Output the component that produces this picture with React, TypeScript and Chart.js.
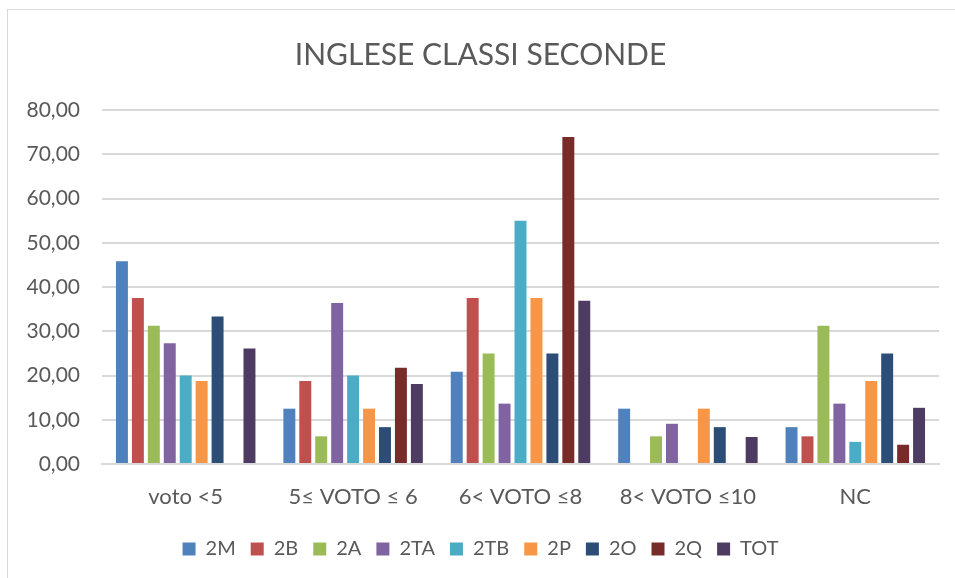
import React, { useEffect, useRef } from "react";
import { Chart, registerables } from "chart.js";

Chart.register(...registerables);

const categories = ["voto <5", "5≤ VOTO ≤ 6", "6< VOTO ≤8", "8< VOTO ≤10", "NC"];
const seriesNames = ["2M", "2B", "2A", "2TA", "2TB", "2P", "2O", "2Q", "TOT"];
const seriesColors = ["#4F81BD", "#C0504D", "#9BBB59", "#8064A2", "#4BACC6", "#F79646", "#2C4D75", "#772C2A", "#4D3B62"];

const v2M = [45.83, 12.5, 20.83, 12.5, 8.33];
const v2B = [37.5, 18.75, 37.5, 0, 6.25];
const v2A = [31.25, 6.25, 25.0, 6.25, 31.25];
const v2TA = [27.27, 36.36, 13.64, 9.09, 13.64];
const v2TB = [20.0, 20.0, 55.0, 0, 5.0];
const v2P = [18.75, 12.5, 37.5, 12.5, 18.75];
const v2O = [33.33, 8.33, 25.0, 8.33, 25.0];
const v2Q = [0, 21.74, 73.91, 0, 4.35];
const vTOT = [26.1, 18.1, 36.9, 6.1, 12.7];

const seriesValues = [v2M, v2B, v2A, v2TA, v2TB, v2P, v2O, v2Q, vTOT];

const yTicks = [0, 10, 20, 30, 40, 50, 60, 70, 80];

const FONT = "Lato, 'Open Sans', sans-serif";
const TEXT = "#595959";
const GRID = "#d9d9d9";

export default function App() {
  const ref = useRef<HTMLCanvasElement | null>(null);

  useEffect(() => {
    document.body.style.margin = "0";
    if (!ref.current) return;
    const chart = new Chart(ref.current, {
      type: "bar",
      data: {
        labels: categories,
        datasets: seriesNames.map((name, i) => ({
          label: name,
          data: seriesValues[i],
          backgroundColor: seriesColors[i],
          borderWidth: 0,
          categoryPercentage: 0.857,
          barPercentage: 0.75,
        })),
      },
      options: {
        animation: false,
        responsive: false,
        maintainAspectRatio: false,
        layout: { padding: { left: 22, right: 16, top: 0, bottom: 9 } },
        plugins: {
          title: {
            display: true,
            text: "INGLESE CLASSI SECONDE",
            color: TEXT,
            font: { family: FONT, size: 30, weight: "normal" },
            padding: { top: 37, bottom: 37 },
          },
          legend: {
            position: "bottom",
            labels: {
              color: TEXT,
              font: { family: FONT, size: 20 },
              boxWidth: 13,
              boxHeight: 13,
              padding: 15,
            },
          },
          tooltip: { enabled: false },
        },
        scales: {
          x: {
            grid: { display: false, drawTicks: false },
            border: { display: true, color: GRID, width: 2 },
            ticks: { color: TEXT, font: { family: FONT, size: 22 }, padding: 20, maxRotation: 0 },
            afterFit: (s: any) => {
              s.height = 60;
            },
          },
          y: {
            min: 0,
            max: 80,
            afterBuildTicks: (s: any) => {
              s.ticks = yTicks.map((v) => ({ value: v }));
            },
            grid: { color: GRID, lineWidth: 2, drawTicks: false },
            border: { display: false },
            ticks: {
              color: TEXT,
              font: { family: FONT, size: 21 },
              padding: 22,
              callback: (v: any) => Number(v).toFixed(2).replace(".", ","),
            },
            afterFit: (s: any) => {
              s.width = 80;
            },
          },
        },
      },
    });
    return () => chart.destroy();
  }, []);

  return (
    <div style={{ position: "absolute", left: 0, top: 0, width: 955, height: 578, background: "#fff" }}>
      <div
        style={{
          position: "absolute",
          left: 7,
          top: 9,
          width: 960,
          height: 600,
          borderLeft: "1px solid #d9d9d9",
          borderTop: "1px solid #d9d9d9",
        }}
      />
      <canvas ref={ref} width={955} height={578} style={{ position: "absolute", left: 0, top: 0 }} />
    </div>
  );
}
